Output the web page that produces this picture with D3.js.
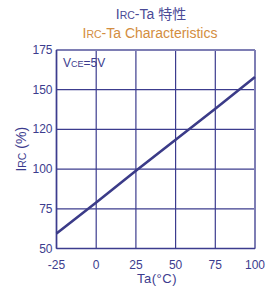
<!DOCTYPE html>
<html>
<head>
<meta charset="utf-8">
<script src="https://cdn.jsdelivr.net/npm/d3@7"></script>
<style>
body { margin: 0; background: #fff; }
text { font-family: "Liberation Sans", Arial, sans-serif; }
</style>
</head>
<body>
<div id="chart"></div>
<script>
var temps = [-25, 0, 25, 50, 75, 100];
var ircValues = [59.5, 79, 99, 118.5, 138, 158];
var xTicks = [-25, 0, 25, 50, 75, 100];
var yTicks = [50, 75, 100, 125, 150, 175];
var yTickLabels = ["50", "75", "100", "120", "150", "175"];

var width = 280;
var height = 287;
var margins = { top: 50, right: 25, bottom: 38.5, left: 56.5 };
var navy = "#3c3c8e";
var orange = "#d38d40";

var svg = d3.select("#chart")
	.append("svg")
	.attr("width", width)
	.attr("height", height);

var x = d3.scaleLinear().domain([-25, 100]).range([margins.left, width - margins.right]);
var y = d3.scaleLinear().domain([50, 175]).range([height - margins.bottom, margins.top]);

// titles
var t1 = svg.append("text")
	.attr("x", 151).attr("y", 19)
	.attr("text-anchor", "middle")
	.attr("fill", "#4a4a96")
	.style("font-size", "14px");
t1.append("tspan").text("I");
t1.append("tspan").style("font-size", "10.5px").text("RC");
t1.append("tspan").text("-Ta ");
t1.append("tspan").style("font-family", "'Noto Sans CJK JP'").text("特性");

var t2 = svg.append("text")
	.attr("x", 150).attr("y", 38)
	.attr("text-anchor", "middle")
	.attr("fill", orange)
	.style("font-size", "14px");
t2.append("tspan").text("I");
t2.append("tspan").style("font-size", "10.5px").text("RC");
t2.append("tspan").text("-Ta Characteristics");

// grid
svg.append("g")
	.selectAll("line.v")
	.data(xTicks)
	.enter()
	.append("line")
	.attr("x1", function (d) { return x(d); })
	.attr("x2", function (d) { return x(d); })
	.attr("y1", y(50))
	.attr("y2", y(175))
	.attr("stroke", navy)
	.attr("stroke-width", 1.2);

svg.append("g")
	.selectAll("line.h")
	.data(yTicks)
	.enter()
	.append("line")
	.attr("x1", x(-25))
	.attr("x2", x(100))
	.attr("y1", function (d) { return y(d); })
	.attr("y2", function (d) { return y(d); })
	.attr("stroke", navy)
	.attr("stroke-width", 1.2);

// frame, top/right drawn lighter like the scan
svg.append("line").attr("x1", x(-25)).attr("x2", x(100)).attr("y1", y(175)).attr("y2", y(175))
	.attr("stroke", "#7e7eb4").attr("stroke-width", 2);
svg.append("line").attr("x1", x(100)).attr("x2", x(100)).attr("y1", y(175)).attr("y2", y(50))
	.attr("stroke", "#7e7eb4").attr("stroke-width", 2);
svg.append("line").attr("x1", x(-25)).attr("x2", x(-25)).attr("y1", y(175)).attr("y2", y(50))
	.attr("stroke", navy).attr("stroke-width", 1.6);
svg.append("line").attr("x1", x(-25)).attr("x2", x(100)).attr("y1", y(50)).attr("y2", y(50))
	.attr("stroke", navy).attr("stroke-width", 1.6);

// tick labels
svg.append("g")
	.selectAll("text")
	.data(yTicks)
	.enter()
	.append("text")
	.attr("x", x(-25) - 4)
	.attr("y", function (d) { return y(d) + 4; })
	.attr("text-anchor", "end")
	.attr("fill", navy)
	.style("font-size", "12px")
	.text(function (d, i) { return yTickLabels[i]; });

svg.append("g")
	.selectAll("text")
	.data(xTicks)
	.enter()
	.append("text")
	.attr("x", function (d) { return x(d); })
	.attr("y", y(50) + 20)
	.attr("text-anchor", "middle")
	.attr("fill", navy)
	.style("font-size", "12px")
	.text(function (d) { return d; });

// axis titles
svg.append("text")
	.attr("x", 157).attr("y", 283)
	.attr("text-anchor", "middle")
	.attr("fill", navy)
	.style("font-size", "13px")
	.style("letter-spacing", "0.5px")
	.text("Ta(°C)");

var yl = svg.append("text")
	.attr("transform", "translate(26," + y(112.5) + ") rotate(-90)")
	.attr("text-anchor", "middle")
	.attr("fill", navy)
	.style("font-size", "14px");
yl.append("tspan").text("I");
yl.append("tspan").style("font-size", "10.5px").text("RC");
yl.append("tspan").text(" (%)");

// condition label
var vl = svg.append("text")
	.attr("x", 63).attr("y", 67)
	.attr("fill", navy)
	.style("font-size", "12px");
vl.append("tspan").text("V");
vl.append("tspan").style("font-size", "9px").text("CE");
vl.append("tspan").text("=5V");

// curve
var line = d3.line()
	.x(function (d, i) { return x(temps[i]); })
	.y(function (d) { return y(d); });

svg.append("path")
	.datum(ircValues)
	.attr("d", line)
	.attr("fill", "none")
	.attr("stroke", "#3b3b88")
	.attr("stroke-width", 2.6);
</script>
</body>
</html>
